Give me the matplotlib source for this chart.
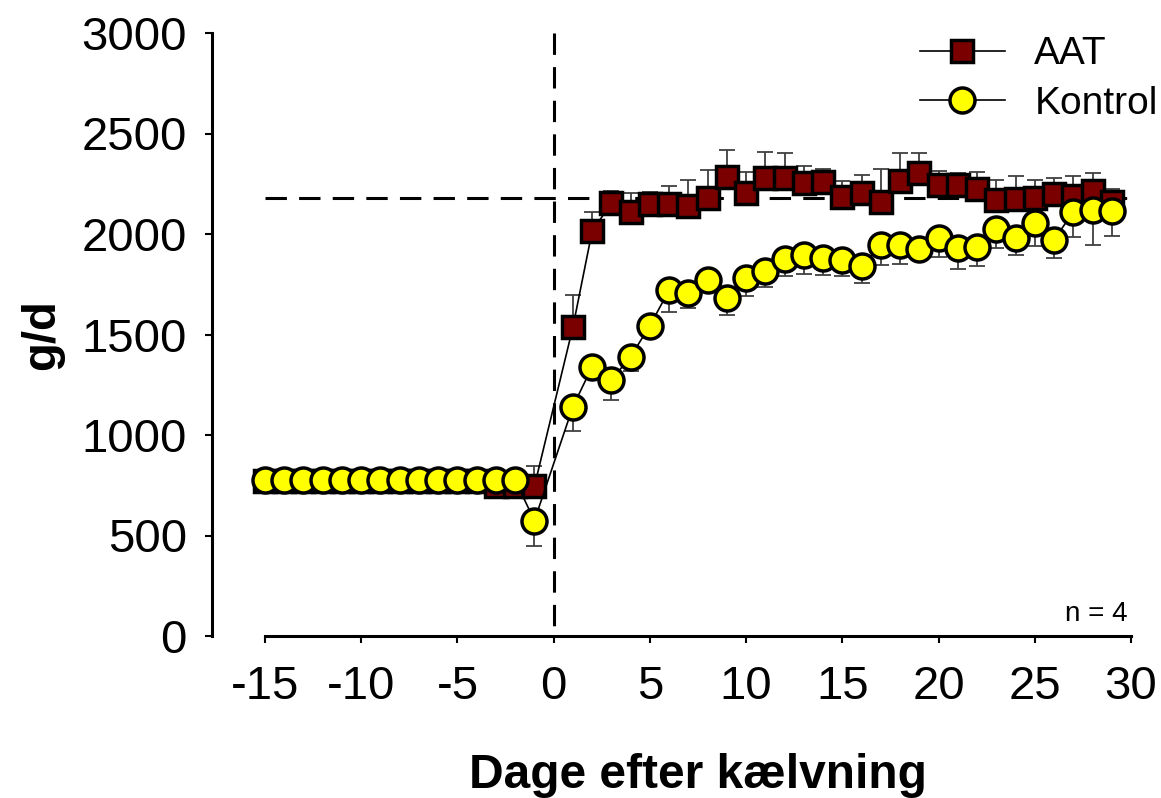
import matplotlib
matplotlib.use("Agg")
import matplotlib.pyplot as plt
import numpy as np

plt.rcParams['font.family'] = ['Liberation Sans', 'DejaVu Sans']
plt.rcParams['axes.unicode_minus'] = False

days = list(range(-15, 0)) + list(range(1, 30))

aat = [770, 770, 770, 770, 770, 770, 770, 770, 770, 770, 770, 770, 745, 745, 745,
       1537, 2015, 2153, 2108, 2148, 2148, 2139, 2177, 2285, 2202,
       2277, 2277, 2252, 2260, 2182, 2202, 2161, 2265, 2302, 2244,
       2244, 2224, 2169, 2174, 2177, 2199, 2190, 2215, 2160]
aat_sd = [0, 0, 0, 0, 0, 0, 0, 0, 0, 0, 0, 0, 0, 0, 100,
          160, 95, 60, 97, 62, 92, 130, 141, 133, 108,
          132, 127, 86, 63, 83, 91, 162, 136, 102, 69,
          61, 86, 100, 115, 92, 81, 99, 87, 65]

kontrol = [775, 775, 775, 775, 775, 775, 775, 775, 775, 775, 775, 775, 775, 775, 574,
           1141, 1340, 1274, 1390, 1544, 1721, 1705, 1771, 1683, 1779,
           1816, 1874, 1895, 1879, 1871, 1841, 1945, 1945, 1924, 1979,
           1929, 1937, 2023, 1979, 2056, 1970, 2111, 2119, 2114]
kontrol_sd = [0, 0, 0, 0, 0, 0, 0, 0, 0, 0, 0, 0, 0, 0, 126,
              120, 30, 100, 70, 30, 111, 72, 30, 86, 86,
              78, 83, 96, 83, 79, 86, 99, 94, 40, 95,
              103, 95, 94, 84, 116, 91, 124, 174, 124]

ref_level = 2180
xticks = [-15, -10, -5, 0, 5, 10, 15, 20, 25, 30]
yticks = [0, 500, 1000, 1500, 2000, 2500, 3000]

fig = plt.figure(figsize=(11.61, 7.98), dpi=100)
ax = fig.add_axes([212/1161, 1-636/798, (1131-212)/1161, (636-33)/798])

xmin = -15 - 53/19.24
ax.set_xlim(xmin, 30)
ax.set_ylim(0, 3000)

zeros = np.zeros(len(days))
# AAT (upper error bars)
ax.errorbar(days, aat, yerr=[zeros, aat_sd], fmt='none', ecolor='#404040',
            elinewidth=1.3, capsize=6, capthick=1.3, zorder=2)
ax.plot(days, aat, color='black', lw=1.2, marker='s', markersize=15.5,
        markerfacecolor='#7a0000', markeredgecolor='black', markeredgewidth=2.5,
        label='AAT', zorder=3)
# Kontrol (lower error bars)
ax.errorbar(days, kontrol, yerr=[kontrol_sd, zeros], fmt='none', ecolor='#404040',
            elinewidth=1.3, capsize=6, capthick=1.3, zorder=4)
ax.plot(days, kontrol, color='black', lw=1.2, marker='o', markersize=18,
        markerfacecolor='#ffff00', markeredgecolor='black', markeredgewidth=2.5,
        label='Kontrol', zorder=5)

# reference lines
ax.plot([-15, 30], [ref_level, ref_level], color='black', lw=2.2,
        dashes=(7, 4), zorder=1)
ax.plot([0, 0], [3000, 0], color='black', lw=2.2, dashes=(7, 4), zorder=1)

for s in ['top', 'right']:
    ax.spines[s].set_visible(False)
ax.spines['left'].set_linewidth(2.2)
ax.spines['bottom'].set_linewidth(2.2)
ax.spines['bottom'].set_bounds(-15, 30)

ax.set_xticks(xticks)
ax.set_yticks(yticks)
ax.tick_params(axis='both', direction='out', length=5, width=1.5, labelsize=34)
ax.tick_params(axis='y', pad=13)
ax.tick_params(axis='x', pad=16)

ax.text(7.5, -0.232, 'Dage efter kælvning', transform=ax.get_xaxis_transform(),
        ha='center', va='center', fontsize=34.5, fontweight='bold')
fig.text(42/1161, 1-335/798, 'g/d', rotation=90, ha='center', va='center',
         fontsize=34, fontweight='bold')

ax.text(29.85, 45, 'n = 4', ha='right', va='bottom', fontsize=20)

leg = ax.legend(loc='upper right', bbox_to_anchor=(1.046, 1.02), frameon=False,
                fontsize=28, handlelength=2.2, handletextpad=0.75,
                labelspacing=0.35, borderaxespad=0)

fig.savefig('out.png', dpi=100)
